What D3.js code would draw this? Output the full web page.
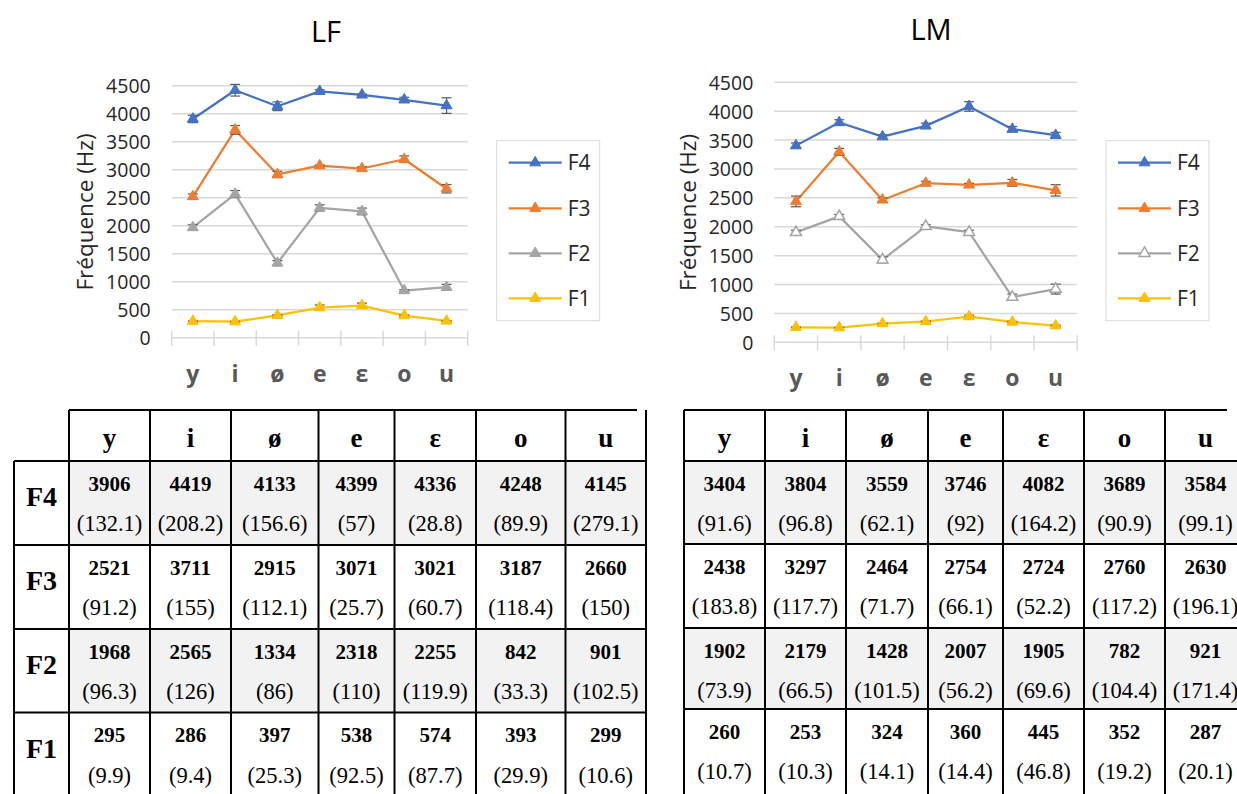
<!DOCTYPE html>
<html>
<head>
<meta charset="utf-8">
<script src="https://cdn.jsdelivr.net/npm/d3@7"></script>
<style>
  html, body { margin: 0; padding: 0; background: #fff; }
  svg { display: block; }
</style>
</head>
<body>
<svg id="chart" width="1237" height="794"></svg>
<script>
// ---------------- DATA ----------------
const categories = ["y", "i", "ø", "e", "ε", "o", "u"];
const seriesNames = ["F4", "F3", "F2", "F1"];
const yTicks = [0, 500, 1000, 1500, 2000, 2500, 3000, 3500, 4000, 4500];

// LF means and standard deviations
const lfF4 = [3906, 4419, 4133, 4399, 4336, 4248, 4145];
const lfF3 = [2521, 3711, 2915, 3071, 3021, 3187, 2660];
const lfF2 = [1968, 2565, 1334, 2318, 2255, 842, 901];
const lfF1 = [295, 286, 397, 538, 574, 393, 299];
const lfF4sd = [132.1, 208.2, 156.6, 57, 28.8, 89.9, 279.1];
const lfF3sd = [91.2, 155, 112.1, 25.7, 60.7, 118.4, 150];
const lfF2sd = [96.3, 126, 86, 110, 119.9, 33.3, 102.5];
const lfF1sd = [9.9, 9.4, 25.3, 92.5, 87.7, 29.9, 10.6];

// LM means and standard deviations
const lmF4 = [3404, 3804, 3559, 3746, 4082, 3689, 3584];
const lmF3 = [2438, 3297, 2464, 2754, 2724, 2760, 2630];
const lmF2 = [1902, 2179, 1428, 2007, 1905, 782, 921];
const lmF1 = [260, 253, 324, 360, 445, 352, 287];
const lmF4sd = [91.6, 96.8, 62.1, 92, 164.2, 90.9, 99.1];
const lmF3sd = [183.8, 117.7, 71.7, 66.1, 52.2, 117.2, 196.1];
const lmF2sd = [73.9, 66.5, 101.5, 56.2, 69.6, 104.4, 171.4];
const lmF1sd = [10.7, 10.3, 14.1, 14.4, 46.8, 19.2, 20.1];

// ---------------- STYLE / LAYOUT ----------------
const colors = { F4: "#4472c4", F3: "#ed7d31", F2: "#a5a5a5", F1: "#ffc000" };
const chartFont = "'Open Sans', 'Noto Sans', sans-serif";
const tableFont = "'Liberation Serif', 'DejaVu Serif', serif";

const svg = d3.select("#chart");
svg.append("rect").attr("width", 1237).attr("height", 794).attr("fill", "#fff");

function drawChart(cfg) {
  const g = svg.append("g");
  const x = d3.scaleBand().domain(categories).range([cfg.x0, cfg.x1]).padding(0);
  const y = d3.scaleLinear().domain([0, 4500]).range([cfg.yBot, cfg.yTop]);
  const cx = c => x(c) + x.bandwidth() / 2;

  // gridlines
  g.append("g").selectAll("line").data(yTicks.filter(t => t > 0)).join("line")
    .attr("x1", cfg.x0).attr("x2", cfg.x1)
    .attr("y1", d => y(d)).attr("y2", d => y(d))
    .attr("stroke", "#d9d9d9").attr("stroke-width", 1.5);

  // y axis labels via d3 axis
  const yAxis = d3.axisLeft(y).tickValues(yTicks).tickFormat(d3.format("d")).tickSize(0).tickPadding(0);
  const ya = g.append("g").attr("transform", `translate(${cfg.x0 - 21},0)`).call(yAxis);
  ya.select(".domain").remove();
  ya.selectAll("text").attr("font-family", chartFont).attr("font-size", 19.5)
    .attr("fill", "#262626").attr("dy", "0.36em");

  // x axis line with ticks at band boundaries
  const xa = g.append("g");
  xa.append("line").attr("x1", cfg.x0).attr("x2", cfg.x1)
    .attr("y1", cfg.yBot).attr("y2", cfg.yBot)
    .attr("stroke", "#d9d9d9").attr("stroke-width", 1.5);
  const bounds = categories.map(c => x(c)).concat([cfg.x1]);
  xa.selectAll("line.tk").data(bounds).join("line").attr("class", "tk")
    .attr("x1", d => d).attr("x2", d => d)
    .attr("y1", cfg.yBot - 7).attr("y2", cfg.yBot + 8)
    .attr("stroke", "#d9d9d9").attr("stroke-width", 1.5);
  xa.selectAll("text").data(categories).join("text")
    .attr("x", d => cx(d)).attr("y", cfg.yBot + 44)
    .attr("text-anchor", "middle").attr("font-family", chartFont)
    .attr("font-weight", "bold").attr("font-size", 23).attr("fill", "#595959")
    .text(d => d);

  // y title
  g.append("text")
    .attr("transform", `translate(${cfg.titleX},${cfg.titleY}) rotate(-90)`)
    .attr("text-anchor", "middle").attr("dy", "0.35em")
    .attr("font-family", chartFont).attr("font-size", 22.5).attr("fill", "#262626")
    .text("Fréquence (Hz)");

  // chart title
  g.append("text").attr("x", cfg.headX).attr("y", cfg.headY)
    .attr("text-anchor", "middle").attr("font-family", chartFont)
    .attr("font-size", 29).attr("fill", "#000").text(cfg.title);

  const line = d3.line().x(d => cx(d.c)).y(d => y(d.v));
  const tri = d3.symbol().type(d3.symbolTriangle).size(52);

  // draw series bottom to top (F1 first) so F4 is on top
  cfg.series.slice().reverse().forEach(s => {
    const pts = categories.map((c, i) => ({ c, v: s.values[i], e: s.sd[i] / 2 }));
    const sg = g.append("g");
    sg.append("path").datum(pts).attr("d", line)
      .attr("fill", "none").attr("stroke", colors[s.name]).attr("stroke-width", 2.25)
      .attr("stroke-linejoin", "round");
    // error bars
    const eb = sg.append("g").attr("stroke", "#595959").attr("stroke-width", 1.2);
    pts.forEach(p => {
      const xx = cx(p.c), ylo = y(p.v - p.e), yhi = y(p.v + p.e);
      eb.append("line").attr("x1", xx).attr("x2", xx).attr("y1", ylo).attr("y2", yhi);
      eb.append("line").attr("x1", xx - 5).attr("x2", xx + 5).attr("y1", ylo).attr("y2", ylo);
      eb.append("line").attr("x1", xx - 5).attr("x2", xx + 5).attr("y1", yhi).attr("y2", yhi);
    });
    sg.selectAll("path.mk").data(pts).join("path").attr("class", "mk")
      .attr("d", tri)
      .attr("transform", d => `translate(${cx(d.c)},${y(d.v)})`)
      .attr("fill", s.hollow ? "#fff" : colors[s.name])
      .attr("stroke", colors[s.name]).attr("stroke-width", s.hollow ? 1.5 : 1);
  });

  // legend
  const lg = g.append("g");
  lg.append("rect").attr("x", cfg.legX).attr("y", 140.7).attr("width", 103).attr("height", 180)
    .attr("fill", "#fff").attr("stroke", "#d9d9d9").attr("stroke-width", 1);
  const legY = [162.7, 208.3, 253.3, 298.3];
  cfg.series.forEach((s, i) => {
    const ly = legY[i];
    lg.append("line").attr("x1", cfg.legX + 12).attr("x2", cfg.legX + 65)
      .attr("y1", ly).attr("y2", ly)
      .attr("stroke", colors[s.name]).attr("stroke-width", 2.25);
    lg.append("path").attr("d", tri).attr("transform", `translate(${cfg.legX + 38.5},${ly})`)
      .attr("fill", s.hollow ? "#fff" : colors[s.name])
      .attr("stroke", colors[s.name]).attr("stroke-width", s.hollow ? 1.5 : 1);
    lg.append("text").attr("x", cfg.legX + 71).attr("y", ly).attr("dy", "0.36em")
      .attr("font-family", chartFont).attr("font-size", 21).attr("fill", "#262626")
      .text(s.name);
  });
}

drawChart({
  title: "LF", headX: 326, headY: 42,
  x0: 171.7, x1: 467.7, yTop: 85.7, yBot: 337.7,
  titleX: 85, titleY: 212, legX: 496.7,
  series: [
    { name: "F4", values: lfF4, sd: lfF4sd },
    { name: "F3", values: lfF3, sd: lfF3sd },
    { name: "F2", values: lfF2, sd: lfF2sd },
    { name: "F1", values: lfF1, sd: lfF1sd }
  ]
});

drawChart({
  title: "LM", headX: 931, headY: 40,
  x0: 774.3, x1: 1077.3, yTop: 82.3, yBot: 342.3,
  titleX: 688, titleY: 212.5, legX: 1106,
  series: [
    { name: "F4", values: lmF4, sd: lmF4sd },
    { name: "F3", values: lmF3, sd: lmF3sd },
    { name: "F2", values: lmF2, sd: lmF2sd, hollow: true },
    { name: "F1", values: lmF1, sd: lmF1sd }
  ]
});

// ---------------- TABLES ----------------
function drawTable(cfg) {
  const g = svg.append("g");
  const e = cfg.edges, r = cfg.rows;
  const rowsData = [
    { name: "F4", v: cfg.data[0], sd: cfg.sd[0], shade: true },
    { name: "F3", v: cfg.data[1], sd: cfg.sd[1], shade: false },
    { name: "F2", v: cfg.data[2], sd: cfg.sd[2], shade: true },
    { name: "F1", v: cfg.data[3], sd: cfg.sd[3], shade: false }
  ];
  // shading
  rowsData.forEach((row, ri) => {
    if (row.shade) g.append("rect").attr("x", e[0]).attr("y", r[ri + 1])
      .attr("width", e[e.length - 1] - e[0]).attr("height", r[ri + 2] - r[ri + 1])
      .attr("fill", "#f2f2f2");
  });
  // header
  categories.forEach((c, i) => {
    g.append("text").attr("x", (e[i] + e[i + 1]) / 2).attr("y", r[0] + 37)
      .attr("text-anchor", "middle").attr("font-family", tableFont)
      .attr("font-weight", "bold").attr("font-size", 27).attr("fill", "#000").text(c);
  });
  rowsData.forEach((row, ri) => {
    const top = r[ri + 1];
    if (cfg.labels) {
      g.append("text").attr("x", (cfg.labelLeft + e[0]) / 2).attr("y", top + 45)
        .attr("text-anchor", "middle").attr("font-family", tableFont)
        .attr("font-weight", "bold").attr("font-size", 28).attr("fill", "#000").text(row.name);
    }
    categories.forEach((c, i) => {
      const mx = (e[i] + e[i + 1]) / 2;
      g.append("text").attr("x", mx).attr("y", top + 29.5)
        .attr("text-anchor", "middle").attr("font-family", tableFont)
        .attr("font-weight", "bold").attr("font-size", 21).attr("fill", "#000").text(row.v[i]);
      g.append("text").attr("x", mx).attr("y", top + 70)
        .attr("text-anchor", "middle").attr("font-family", tableFont)
        .attr("font-size", 22.5).attr("fill", "#000").text("(" + row.sd[i] + ")");
    });
  });
  // grid lines
  const ln = g.append("g").attr("stroke", "#000").attr("stroke-width", 2);
  e.forEach(xv => ln.append("line").attr("x1", xv).attr("x2", xv).attr("y1", r[0]).attr("y2", 800));
  ln.append("line").attr("x1", e[0]).attr("x2", cfg.topEnd).attr("y1", r[0]).attr("y2", r[0]);
  const left = cfg.labels ? cfg.labelLeft : e[0];
  r.slice(1, r.length - 1).forEach(yv => ln.append("line").attr("x1", left).attr("x2", e[e.length - 1])
    .attr("y1", yv).attr("y2", yv));
  if (cfg.labels) ln.append("line").attr("x1", cfg.labelLeft).attr("x2", cfg.labelLeft)
    .attr("y1", r[1]).attr("y2", 800);
}

drawTable({
  edges: [69, 150, 231, 318.5, 394.5, 476, 565.5, 646],
  rows: [410, 461, 545, 629, 712.5, 800],
  labels: true, labelLeft: 14, topEnd: 637,
  data: [lfF4, lfF3, lfF2, lfF1], sd: [lfF4sd, lfF3sd, lfF2sd, lfF1sd]
});
drawTable({
  edges: [684, 765, 846, 928, 1003, 1084, 1165, 1246],
  rows: [410, 461, 544, 628, 709, 800],
  labels: false, topEnd: 1227,
  data: [lmF4, lmF3, lmF2, lmF1], sd: [lmF4sd, lmF3sd, lmF2sd, lmF1sd]
});
</script>
</body>
</html>
